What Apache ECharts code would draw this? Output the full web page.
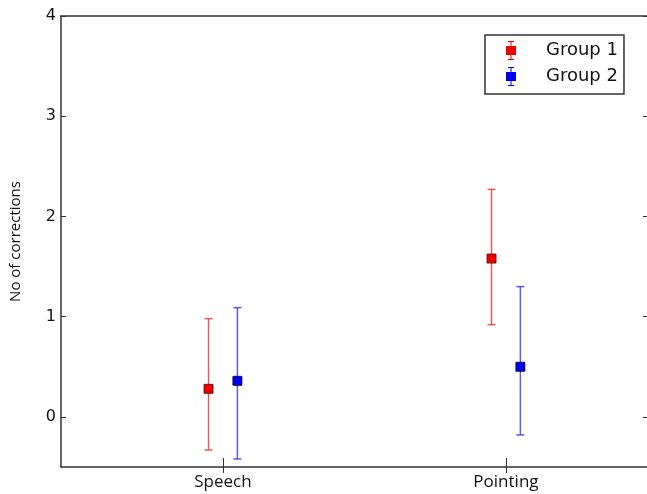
<!DOCTYPE html>
<html>
<head>
<meta charset="utf-8">
<script src="https://cdn.jsdelivr.net/npm/echarts@6/dist/echarts.min.js"></script>
<style>
  html, body { margin: 0; padding: 0; background: #fff; }
  #chart { width: 647px; height: 494px; }
</style>
</head>
<body>
<div id="chart"></div>
<script>
const categories = ['Speech', 'Pointing'];
const positions = [1, 2];
const yTicks = [0, 1, 2, 3, 4];

const group1Mean = [0.28, 1.58];
const group1Low = [-0.33, 0.92];
const group1High = [0.98, 2.27];

const group2Mean = [0.36, 0.50];
const group2Low = [-0.42, -0.18];
const group2High = [1.09, 1.30];

// small side shift so the two groups do not overlap
const shift = 0.051;

function buildData(mean, low, high, dx) {
  return positions.map((p, i) => [p + dx, mean[i], low[i], high[i]]);
}

function renderErrorBar(params, api) {
  const x = api.value(0);
  const pm = api.coord([x, api.value(1)]);
  const pl = api.coord([x, api.value(2)]);
  const ph = api.coord([x, api.value(3)]);
  const color = api.visual('color');
  const bar = params.seriesIndex === 0 ? 'rgba(220,40,40,0.75)' : 'rgba(40,40,210,0.75)';
  const edge = params.seriesIndex === 0 ? '#500' : '#003';
  const cap = 4;
  return {
    type: 'group',
    children: [
      { type: 'line', shape: { x1: pm[0], y1: pl[1], x2: pm[0], y2: ph[1] }, style: { stroke: bar, lineWidth: 1.5 } },
      { type: 'line', shape: { x1: pm[0] - cap, y1: pl[1], x2: pm[0] + cap, y2: pl[1] }, style: { stroke: bar, lineWidth: 1.5 } },
      { type: 'line', shape: { x1: pm[0] - cap, y1: ph[1], x2: pm[0] + cap, y2: ph[1] }, style: { stroke: bar, lineWidth: 1.5 } },
      { type: 'rect', shape: { x: pm[0] - 4.5, y: pm[1] - 4.5, width: 9, height: 9 }, style: { fill: color, stroke: edge, lineWidth: 0.8 } }
    ]
  };
}

const legendIcon = 'path://M2,0 L8,0 L8,1 L5.5,1 L5.5,5 L10,5 L10,14 L5.5,14 L5.5,18 L8,18 L8,19 L2,19 L2,18 L4.5,18 L4.5,14 L0,14 L0,5 L4.5,5 L4.5,1 L2,1 Z';

const chart = echarts.init(document.getElementById('chart'), null, { renderer: 'canvas' });

chart.setOption({
  animation: false,
  backgroundColor: '#fff',
  grid: { left: 61, right: -1, top: 16, bottom: 27, outerBoundsMode: 'none' },
  legend: {
    orient: 'vertical',
    left: 485,
    top: 35,
    padding: [6, 6, 8, 21],
    itemWidth: 10,
    itemHeight: 19,
    itemGap: 7,
    borderColor: '#333',
    borderWidth: 1.5,
    borderRadius: 0,
    icon: legendIcon,
    textStyle: { fontFamily: 'DejaVu Sans', fontSize: 18, color: '#111', padding: [0, 0, 0, 25] },
    data: ['Group 1', 'Group 2']
  },
  xAxis: [
    {
      type: 'value',
      min: 0.4276,
      max: 2.502,
      position: 'bottom',
      splitLine: { show: false },
      axisLine: { show: true, onZero: false, lineStyle: { color: '#333', width: 1.5 } },
      axisTick: { show: true, inside: true, length: 9, customValues: positions, lineStyle: { color: '#333' } },
      axisLabel: {
        customValues: positions,
        margin: 7,
        fontFamily: 'Open Sans',
        fontSize: 17,
        color: '#111',
        formatter: v => categories[positions.indexOf(v)] || ''
      }
    },
    {
      type: 'value',
      min: 0.4276,
      max: 2.502,
      position: 'bottom',
      splitLine: { show: false },
      axisLine: { show: false, onZero: false },
      axisTick: { show: true, inside: false, length: 6, customValues: positions, lineStyle: { color: '#333' } },
      axisLabel: { show: false }
    },
    {
      type: 'value',
      min: 0.4276,
      max: 2.502,
      position: 'top',
      splitLine: { show: false },
      axisLine: { show: true, onZero: false, lineStyle: { color: '#333', width: 1.5 } },
      axisTick: { show: false },
      axisLabel: { show: false }
    }
  ],
  yAxis: [
    {
      type: 'value',
      min: -0.5,
      max: 4,
      position: 'left',
      name: 'No of corrections',
      nameLocation: 'middle',
      nameGap: 38,
      nameTextStyle: { fontFamily: 'Open Sans', fontSize: 15, color: '#111' },
      splitLine: { show: false },
      axisLine: { show: true, onZero: false, lineStyle: { color: '#333', width: 1.5 } },
      axisTick: { show: true, inside: true, length: 5, customValues: yTicks, lineStyle: { color: '#333' } },
      axisLabel: { customValues: yTicks, margin: 5, fontFamily: 'DejaVu Sans', fontSize: 16, color: '#111' }
    },
    {
      type: 'value',
      min: -0.5,
      max: 4,
      position: 'right',
      splitLine: { show: false },
      axisLine: { show: true, onZero: false, lineStyle: { color: '#333', width: 1.5 } },
      axisTick: { show: true, inside: true, length: 5, customValues: yTicks, lineStyle: { color: '#333' } },
      axisLabel: { show: false }
    }
  ],
  series: [
    {
      name: 'Group 1',
      type: 'custom',
      color: '#ee0000',
      renderItem: renderErrorBar,
      encode: { x: 0, y: [1, 2, 3] },
      data: buildData(group1Mean, group1Low, group1High, -shift)
    },
    {
      name: 'Group 2',
      type: 'custom',
      color: '#0000ee',
      renderItem: renderErrorBar,
      encode: { x: 0, y: [1, 2, 3] },
      data: buildData(group2Mean, group2Low, group2High, shift)
    }
  ]
});
</script>
</body>
</html>
